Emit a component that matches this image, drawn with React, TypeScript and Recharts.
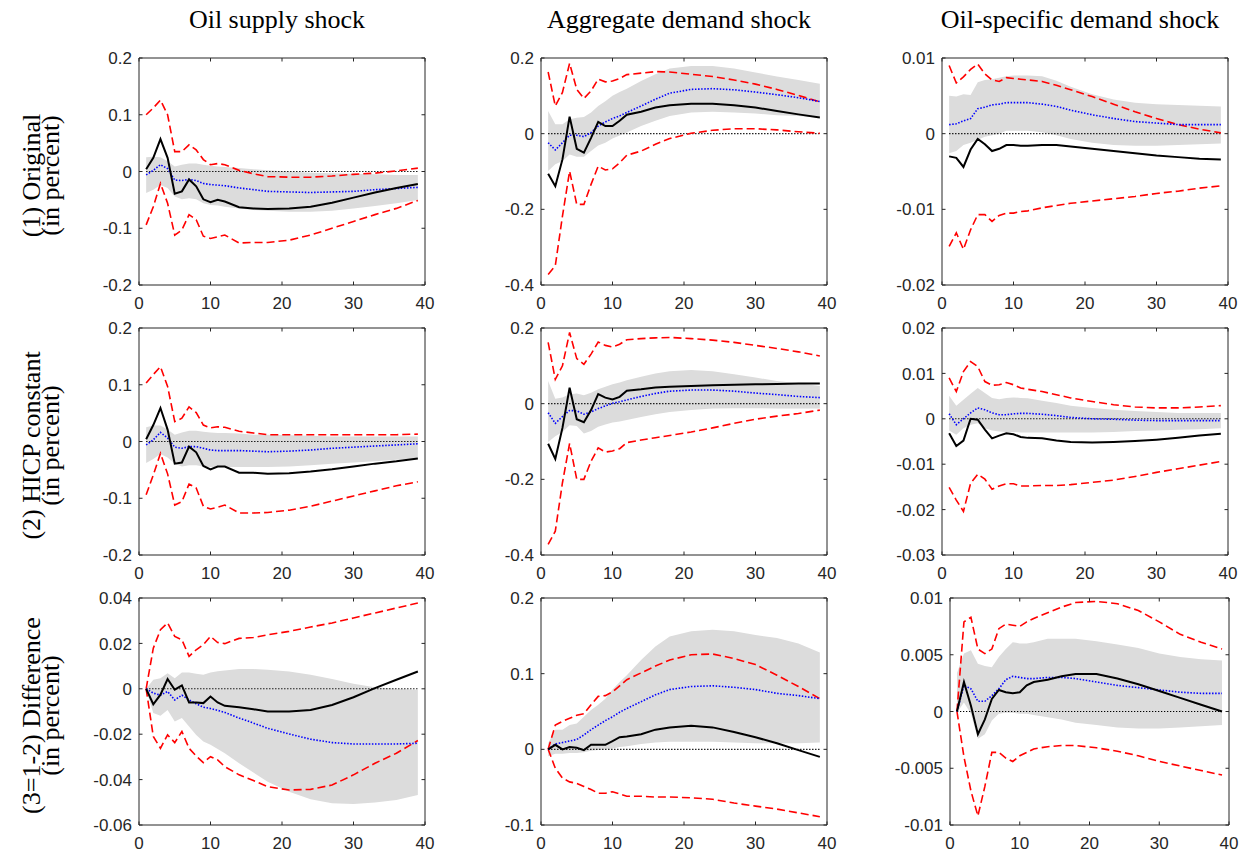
import React from 'react'
import { ComposedChart, Area, Line, XAxis, YAxis, ReferenceArea } from 'recharts'

// horizons (quarters) at which responses are read
const horizons = [1, 2, 3, 4, 5, 6, 7, 8, 9, 10, 11, 12, 14, 16, 18, 21, 24, 27, 30, 33, 36, 39]
const xTicks = [0, 10, 20, 30, 40]

const shockTitles = ['Oil supply shock', 'Aggregate demand shock', 'Oil-specific demand shock']
const rowLabels = [
  ['(1) Original', '(in percent)'],
  ['(2) HICP constant', '(in percent)'],
  ['(3=1-2) Difference', '(in percent)'],
]

// y ticks
const ticksA = [-0.2, -0.1, 0, 0.1, 0.2]
const ticksB = [-0.4, -0.2, 0, 0.2]
const ticksC = [-0.02, -0.01, 0, 0.01]
const ticksD = [-0.03, -0.02, -0.01, 0, 0.01, 0.02]
const ticksE = [-0.06, -0.04, -0.02, 0, 0.02, 0.04]
const ticksF = [-0.1, 0, 0.1, 0.2]
const ticksG = [-0.01, -0.005, 0, 0.005, 0.01]

// (1) original — oil supply
const origSupplyBlack = [0.004, 0.024, 0.057, 0.024, -0.039, -0.035, -0.014, -0.026, -0.049, -0.054, -0.05, -0.053, -0.063, -0.065, -0.066, -0.065, -0.062, -0.055, -0.046, -0.037, -0.029, -0.022]
const origSupplyBlue = [-0.006, 0.002, 0.012, 0.005, -0.015, -0.016, -0.014, -0.016, -0.021, -0.023, -0.024, -0.025, -0.029, -0.032, -0.035, -0.036, -0.037, -0.036, -0.035, -0.032, -0.03, -0.028]
const origSupplyBandLo = [-0.038, -0.032, -0.024, -0.029, -0.044, -0.049, -0.047, -0.049, -0.056, -0.059, -0.06, -0.062, -0.065, -0.068, -0.069, -0.071, -0.071, -0.069, -0.065, -0.061, -0.056, -0.05]
const origSupplyBandHi = [0.025, 0.026, 0.025, 0.018, 0.009, 0.012, 0.014, 0.014, 0.012, 0.01, 0.009, 0.008, 0.006, 0.004, 0.002, 0, -0.002, -0.003, -0.004, -0.005, -0.006, -0.006]
const origSupplyRedLo = [-0.094, -0.062, -0.021, -0.056, -0.112, -0.103, -0.076, -0.085, -0.114, -0.118, -0.115, -0.112, -0.126, -0.125, -0.125, -0.121, -0.112, -0.1, -0.088, -0.076, -0.065, -0.051]
const origSupplyRedHi = [0.1, 0.112, 0.126, 0.1, 0.035, 0.035, 0.047, 0.038, 0.021, 0.012, 0.014, 0.012, 0.002, -0.004, -0.009, -0.01, -0.01, -0.008, -0.005, -0.003, 0.001, 0.006]

// (1) original — aggregate demand
const origAggBlack = [-0.106, -0.139, -0.068, 0.045, -0.04, -0.05, -0.011, 0.031, 0.02, 0.02, 0.034, 0.05, 0.058, 0.069, 0.075, 0.079, 0.079, 0.075, 0.069, 0.06, 0.051, 0.043]
const origAggBlue = [-0.024, -0.043, -0.024, -0.004, -0.004, -0.008, 0.003, 0.02, 0.031, 0.04, 0.047, 0.056, 0.073, 0.091, 0.107, 0.117, 0.119, 0.116, 0.11, 0.103, 0.095, 0.085]
const origAggBandLo = [-0.099, -0.081, -0.072, -0.055, -0.061, -0.061, -0.046, -0.031, -0.024, -0.013, -0.005, 0.003, 0.02, 0.034, 0.047, 0.056, 0.058, 0.056, 0.053, 0.049, 0.047, 0.042]
const origAggBandHi = [0.06, 0.025, 0.025, 0.038, 0.042, 0.044, 0.056, 0.073, 0.086, 0.1, 0.11, 0.119, 0.139, 0.157, 0.172, 0.179, 0.179, 0.172, 0.162, 0.151, 0.142, 0.132]
const origAggRedLo = [-0.372, -0.349, -0.218, -0.099, -0.187, -0.187, -0.134, -0.086, -0.096, -0.093, -0.077, -0.057, -0.046, -0.028, -0.013, 0.001, 0.009, 0.013, 0.013, 0.01, 0.005, 0.001]
const origAggRedHi = [0.163, 0.073, 0.109, 0.186, 0.117, 0.093, 0.113, 0.144, 0.137, 0.139, 0.146, 0.156, 0.16, 0.164, 0.163, 0.157, 0.151, 0.142, 0.131, 0.117, 0.101, 0.084]

// (1) original — oil-specific demand
const origSpecBlack = [-0.003, -0.0032, -0.0044, -0.0021, -0.0007, -0.0014, -0.0023, -0.002, -0.0015, -0.0015, -0.0016, -0.0016, -0.0015, -0.0015, -0.0017, -0.002, -0.0023, -0.0026, -0.0029, -0.0031, -0.0033, -0.0034]
const origSpecBlue = [0.0012, 0.0013, 0.0017, 0.002, 0.0033, 0.0035, 0.0038, 0.0039, 0.0041, 0.0041, 0.0041, 0.0041, 0.0039, 0.0036, 0.0031, 0.0025, 0.002, 0.0016, 0.0014, 0.0012, 0.0012, 0.0012]
const origSpecBandLo = [-0.0026, -0.0023, -0.0015, -0.0012, -0.0008, -0.0004, -0.0002, 0, 0.0004, 0.0004, 0.0004, 0.0004, 0.0002, -0.0002, -0.0007, -0.0012, -0.0015, -0.0016, -0.0016, -0.0015, -0.0014, -0.0013]
const origSpecBandHi = [0.005, 0.0049, 0.0052, 0.0051, 0.0068, 0.0071, 0.0072, 0.0074, 0.0076, 0.0077, 0.0077, 0.0077, 0.0076, 0.007, 0.0062, 0.0052, 0.0045, 0.0041, 0.0039, 0.0038, 0.0037, 0.0036]
const origSpecRedLo = [-0.0149, -0.0131, -0.0153, -0.0127, -0.0107, -0.0107, -0.0116, -0.0108, -0.0105, -0.0105, -0.0103, -0.0102, -0.0098, -0.0095, -0.0092, -0.0089, -0.0086, -0.0083, -0.0079, -0.0076, -0.0072, -0.0069]
const origSpecRedHi = [0.009, 0.0067, 0.0075, 0.0085, 0.0092, 0.0079, 0.0071, 0.0069, 0.0074, 0.0073, 0.0072, 0.0071, 0.0069, 0.0064, 0.0058, 0.0049, 0.0039, 0.0029, 0.002, 0.0012, 0.0006, 0.0001]

// (2) HICP constant — oil supply
const hicpSupplyBlack = [0.004, 0.029, 0.059, 0.021, -0.039, -0.037, -0.009, -0.019, -0.043, -0.049, -0.044, -0.044, -0.055, -0.055, -0.057, -0.056, -0.053, -0.049, -0.044, -0.039, -0.035, -0.03]
const hicpSupplyBlue = [-0.006, 0.003, 0.016, 0.006, -0.01, -0.012, -0.009, -0.009, -0.012, -0.015, -0.016, -0.016, -0.016, -0.017, -0.018, -0.017, -0.015, -0.012, -0.01, -0.008, -0.006, -0.004]
const hicpSupplyBandLo = [-0.038, -0.031, -0.022, -0.028, -0.039, -0.044, -0.042, -0.042, -0.044, -0.045, -0.045, -0.045, -0.045, -0.045, -0.045, -0.044, -0.042, -0.039, -0.037, -0.035, -0.032, -0.03]
const hicpSupplyBandHi = [0.025, 0.028, 0.028, 0.021, 0.012, 0.016, 0.019, 0.019, 0.017, 0.016, 0.015, 0.015, 0.014, 0.012, 0.012, 0.011, 0.01, 0.009, 0.009, 0.009, 0.009, 0.009]
const hicpSupplyRedLo = [-0.094, -0.059, -0.021, -0.057, -0.112, -0.106, -0.075, -0.082, -0.114, -0.119, -0.116, -0.112, -0.126, -0.126, -0.125, -0.121, -0.114, -0.105, -0.096, -0.087, -0.078, -0.071]
const hicpSupplyRedHi = [0.103, 0.118, 0.132, 0.097, 0.035, 0.041, 0.061, 0.051, 0.029, 0.024, 0.026, 0.025, 0.018, 0.015, 0.012, 0.012, 0.012, 0.012, 0.012, 0.012, 0.012, 0.013]

// (2) HICP constant — aggregate demand
const hicpAggBlack = [-0.106, -0.146, -0.064, 0.042, -0.041, -0.049, -0.017, 0.025, 0.016, 0.011, 0.018, 0.034, 0.038, 0.043, 0.045, 0.047, 0.049, 0.05, 0.051, 0.052, 0.053, 0.053]
const hicpAggBlue = [-0.024, -0.052, -0.034, -0.018, -0.019, -0.028, -0.022, -0.013, -0.006, 0.001, 0.005, 0.01, 0.019, 0.027, 0.033, 0.036, 0.036, 0.033, 0.028, 0.024, 0.019, 0.016]
const hicpAggBandLo = [-0.101, -0.086, -0.075, -0.057, -0.059, -0.079, -0.072, -0.061, -0.055, -0.05, -0.047, -0.043, -0.035, -0.028, -0.022, -0.017, -0.013, -0.012, -0.012, -0.013, -0.013, -0.013]
const hicpAggBandHi = [0.06, 0.013, 0.016, 0.025, 0.027, 0.022, 0.029, 0.038, 0.045, 0.051, 0.056, 0.062, 0.071, 0.08, 0.086, 0.089, 0.086, 0.078, 0.069, 0.06, 0.054, 0.047]
const hicpAggRedLo = [-0.372, -0.337, -0.209, -0.105, -0.2, -0.2, -0.152, -0.117, -0.128, -0.125, -0.119, -0.103, -0.096, -0.09, -0.084, -0.075, -0.064, -0.052, -0.041, -0.033, -0.026, -0.017]
const hicpAggRedHi = [0.162, 0.064, 0.1, 0.188, 0.119, 0.104, 0.131, 0.163, 0.154, 0.15, 0.157, 0.169, 0.172, 0.174, 0.175, 0.172, 0.168, 0.162, 0.154, 0.146, 0.137, 0.126]

// (2) HICP constant — oil-specific demand
const hicpSpecBlack = [-0.0032, -0.006, -0.0048, 0, -0.0002, -0.0024, -0.0043, -0.0037, -0.0032, -0.0034, -0.004, -0.0042, -0.0043, -0.0048, -0.0051, -0.0052, -0.0051, -0.0049, -0.0046, -0.0042, -0.0037, -0.0033]
const hicpSpecBlue = [0.0011, -0.0013, 0, 0.0013, 0.0024, 0.002, 0.0013, 0.0009, 0.0009, 0.0011, 0.0012, 0.0012, 0.001, 0.0007, 0.0003, 0, -0.0001, -0.0003, -0.0004, -0.0004, -0.0004, -0.0004]
const hicpSpecBandLo = [-0.0026, -0.0035, -0.0021, -0.0013, -0.001, -0.0021, -0.0026, -0.0028, -0.0029, -0.0029, -0.003, -0.003, -0.003, -0.003, -0.003, -0.003, -0.0029, -0.0027, -0.0026, -0.0024, -0.0023, -0.0021]
const hicpSpecBandHi = [0.0051, 0.0029, 0.0042, 0.0055, 0.0068, 0.0057, 0.0046, 0.0043, 0.0046, 0.0047, 0.0046, 0.0045, 0.004, 0.0035, 0.0029, 0.0024, 0.002, 0.0017, 0.0015, 0.0013, 0.0013, 0.0013]
const hicpSpecRedLo = [-0.0151, -0.0179, -0.0204, -0.0142, -0.0122, -0.0133, -0.0155, -0.0148, -0.0143, -0.0143, -0.0148, -0.0148, -0.0147, -0.0147, -0.0145, -0.014, -0.0135, -0.0127, -0.0118, -0.011, -0.0102, -0.0094]
const hicpSpecRedHi = [0.009, 0.006, 0.0104, 0.0126, 0.0115, 0.0082, 0.0074, 0.0075, 0.008, 0.0075, 0.0068, 0.0065, 0.006, 0.0053, 0.0046, 0.0038, 0.0031, 0.0026, 0.0024, 0.0024, 0.0026, 0.0029]

// (3) difference — oil supply
const diffSupplyBlack = [0, -0.0068, -0.0026, 0.0043, -0.0004, 0.0015, -0.006, -0.006, -0.0063, -0.0034, -0.006, -0.0075, -0.0081, -0.009, -0.01, -0.01, -0.0093, -0.0071, -0.0037, 0.0003, 0.004, 0.0076]
const diffSupplyBlue = [0, -0.0019, -0.0028, -0.0012, -0.0049, -0.0028, -0.0049, -0.0066, -0.0081, -0.0087, -0.0095, -0.0104, -0.0129, -0.0151, -0.0174, -0.0199, -0.0222, -0.0237, -0.0243, -0.0243, -0.0243, -0.024]
const diffSupplyBandLo = [-0.0004, -0.0107, -0.0119, -0.0093, -0.0144, -0.0129, -0.0166, -0.0203, -0.0232, -0.0247, -0.0265, -0.0284, -0.0328, -0.0369, -0.0409, -0.0453, -0.0487, -0.0504, -0.0507, -0.0501, -0.049, -0.0468]
const diffSupplyBandHi = [0, 0.004, 0.0047, 0.0069, 0.0047, 0.0072, 0.0072, 0.0066, 0.0062, 0.0072, 0.0077, 0.0081, 0.0087, 0.0087, 0.0084, 0.0076, 0.0062, 0.0043, 0.0022, 0.0007, 0, -0.0004]
const diffSupplyRedLo = [0, -0.021, -0.0262, -0.0203, -0.0237, -0.0188, -0.0262, -0.0296, -0.0325, -0.0299, -0.0313, -0.0343, -0.0379, -0.0404, -0.0431, -0.0446, -0.0443, -0.0424, -0.0379, -0.0328, -0.0284, -0.0228]
const diffSupplyRedHi = [0, 0.0179, 0.026, 0.029, 0.0231, 0.0216, 0.0143, 0.0172, 0.0194, 0.0231, 0.0204, 0.0199, 0.0222, 0.0226, 0.0238, 0.0253, 0.0272, 0.029, 0.0312, 0.0334, 0.0356, 0.0378]

// (3) difference — aggregate demand
const diffAggBlack = [0, 0.006, 0, 0.003, 0.002, -0.001, 0.006, 0.006, 0.006, 0.011, 0.016, 0.017, 0.02, 0.026, 0.029, 0.031, 0.029, 0.023, 0.016, 0.008, -0.001, -0.01]
const diffAggBlue = [0, 0.007, 0.009, 0.011, 0.013, 0.019, 0.026, 0.032, 0.038, 0.043, 0.049, 0.054, 0.063, 0.072, 0.079, 0.083, 0.084, 0.082, 0.079, 0.074, 0.071, 0.067]
const diffAggBandLo = [-0.009, -0.006, -0.006, -0.005, -0.005, -0.004, -0.002, -0.001, 0, 0.001, 0.003, 0.004, 0.007, 0.009, 0.01, 0.01, 0.01, 0.009, 0.008, 0.008, 0.008, 0.009]
const diffAggBandHi = [0.008, 0.026, 0.026, 0.032, 0.034, 0.043, 0.052, 0.059, 0.067, 0.079, 0.089, 0.098, 0.118, 0.136, 0.149, 0.156, 0.158, 0.156, 0.151, 0.147, 0.14, 0.128]
const diffAggRedLo = [0, -0.025, -0.038, -0.043, -0.045, -0.049, -0.053, -0.058, -0.058, -0.056, -0.059, -0.062, -0.062, -0.063, -0.063, -0.064, -0.066, -0.071, -0.075, -0.079, -0.084, -0.089]
const diffAggRedHi = [0, 0.032, 0.037, 0.041, 0.045, 0.047, 0.059, 0.07, 0.071, 0.076, 0.084, 0.092, 0.101, 0.11, 0.118, 0.125, 0.126, 0.12, 0.112, 0.098, 0.083, 0.067]

// (3) difference — oil-specific demand
const diffSpecBlack = [0, 0.0026, 0.0005, -0.002, -0.0007, 0.0011, 0.0019, 0.0017, 0.0016, 0.0017, 0.0023, 0.0026, 0.0028, 0.0031, 0.0033, 0.0033, 0.0029, 0.0024, 0.0018, 0.0012, 0.0006, 0]
const diffSpecBlue = [0, 0.0023, 0.002, 0.0009, 0.0009, 0.0014, 0.002, 0.0028, 0.0031, 0.003, 0.0029, 0.0029, 0.003, 0.003, 0.0029, 0.0026, 0.0023, 0.0021, 0.0019, 0.0017, 0.0016, 0.0016]
const diffSpecBandLo = [-0.0001, 0.0008, -0.0002, -0.0024, -0.002, -0.0008, -0.0002, -0.0001, -0.0001, -0.0002, -0.0002, -0.0003, -0.0005, -0.0007, -0.001, -0.0012, -0.0014, -0.0015, -0.0015, -0.0014, -0.0013, -0.0012]
const diffSpecBandHi = [0.0034, 0.0051, 0.0054, 0.0042, 0.004, 0.0039, 0.0048, 0.0055, 0.0061, 0.006, 0.006, 0.0061, 0.0064, 0.0064, 0.0064, 0.0062, 0.0059, 0.0056, 0.0051, 0.0048, 0.0046, 0.0045]
const diffSpecRedLo = [0, -0.004, -0.007, -0.0092, -0.0066, -0.0036, -0.0036, -0.0041, -0.0044, -0.0039, -0.0036, -0.0033, -0.0031, -0.003, -0.003, -0.0032, -0.0035, -0.0039, -0.0044, -0.0048, -0.0052, -0.0056]
const diffSpecRedHi = [0, 0.0079, 0.0083, 0.0055, 0.0051, 0.0055, 0.0073, 0.0077, 0.0076, 0.0075, 0.0079, 0.0082, 0.0087, 0.0092, 0.0096, 0.0097, 0.0095, 0.0089, 0.0079, 0.0068, 0.0061, 0.0055]

const AXIS = '#262626'
const TICK_FONT = '"Liberation Sans", Arial, Helvetica, sans-serif'
const SERIF = '"Liberation Serif", "Times New Roman", serif'

const PLOT_W = 286
const PLOT_H = 227
const Y_W = 70
const TOP_PAD = 12
const RIGHT_PAD = 14
const X_H = 30
const colLeft = [139, 541, 942]
const rowTop = [58, 328, 598]

interface Series {
  black: number[]
  blue: number[]
  bandLo: number[]
  bandHi: number[]
  redLo: number[]
  redHi: number[]
}

interface PanelDef extends Series {
  row: number
  col: number
  yTicks: number[]
  left?: number
  width?: number
}

const panels: PanelDef[] = [
  { row: 0, col: 0, yTicks: ticksA, black: origSupplyBlack, blue: origSupplyBlue, bandLo: origSupplyBandLo, bandHi: origSupplyBandHi, redLo: origSupplyRedLo, redHi: origSupplyRedHi },
  { row: 0, col: 1, yTicks: ticksB, black: origAggBlack, blue: origAggBlue, bandLo: origAggBandLo, bandHi: origAggBandHi, redLo: origAggRedLo, redHi: origAggRedHi },
  { row: 0, col: 2, yTicks: ticksC, black: origSpecBlack, blue: origSpecBlue, bandLo: origSpecBandLo, bandHi: origSpecBandHi, redLo: origSpecRedLo, redHi: origSpecRedHi },
  { row: 1, col: 0, yTicks: ticksA, black: hicpSupplyBlack, blue: hicpSupplyBlue, bandLo: hicpSupplyBandLo, bandHi: hicpSupplyBandHi, redLo: hicpSupplyRedLo, redHi: hicpSupplyRedHi },
  { row: 1, col: 1, yTicks: ticksB, black: hicpAggBlack, blue: hicpAggBlue, bandLo: hicpAggBandLo, bandHi: hicpAggBandHi, redLo: hicpAggRedLo, redHi: hicpAggRedHi },
  { row: 1, col: 2, yTicks: ticksD, black: hicpSpecBlack, blue: hicpSpecBlue, bandLo: hicpSpecBandLo, bandHi: hicpSpecBandHi, redLo: hicpSpecRedLo, redHi: hicpSpecRedHi },
  { row: 2, col: 0, yTicks: ticksE, black: diffSupplyBlack, blue: diffSupplyBlue, bandLo: diffSupplyBandLo, bandHi: diffSupplyBandHi, redLo: diffSupplyRedLo, redHi: diffSupplyRedHi },
  { row: 2, col: 1, yTicks: ticksF, black: diffAggBlack, blue: diffAggBlue, bandLo: diffAggBandLo, bandHi: diffAggBandHi, redLo: diffAggRedLo, redHi: diffAggRedHi },
  { row: 2, col: 2, yTicks: ticksG, left: 950, width: 279, black: diffSpecBlack, blue: diffSpecBlue, bandLo: diffSpecBandLo, bandHi: diffSpecBandHi, redLo: diffSpecRedLo, redHi: diffSpecRedHi },
]

function buildRows(p: Series) {
  return horizons.map((h, i) => ({
    h,
    black: p.black[i],
    blue: p.blue[i],
    redLo: p.redLo[i],
    redHi: p.redHi[i],
    band: [p.bandLo[i], p.bandHi[i]],
  }))
}

function makeYTick(plotW: number) {
  return (props: any) => {
    const { x, y, payload } = props
    return (
      <g>
        <line x1={x} x2={x + 3.5} y1={y} y2={y} stroke={AXIS} strokeWidth={1} />
        <line x1={x + plotW - 3.5} x2={x + plotW} y1={y} y2={y} stroke={AXIS} strokeWidth={1} />
        <text x={x - 7} y={y} dy="0.36em" textAnchor="end" fontFamily={TICK_FONT} fontSize={17} fill={AXIS}>
          {String(payload.value)}
        </text>
      </g>
    )
  }
}

function makeXTick(plotH: number) {
  return (props: any) => {
    const { x, y, payload } = props
    return (
      <g>
        <line x1={x} x2={x} y1={y} y2={y - 3.5} stroke={AXIS} strokeWidth={1} />
        <line x1={x} x2={x} y1={y - plotH} y2={y - plotH + 3.5} stroke={AXIS} strokeWidth={1} />
        <text x={x} y={y + 18} dy="0.36em" textAnchor="middle" fontFamily={TICK_FONT} fontSize={17} fill={AXIS}>
          {String(payload.value)}
        </text>
      </g>
    )
  }
}

function Panel({ p }: { p: PanelDef }) {
  const plotW = p.width ?? PLOT_W
  const left = p.left ?? colLeft[p.col]
  const top = rowTop[p.row]
  const yMin = p.yTicks[0]
  const yMax = p.yTicks[p.yTicks.length - 1]
  const rows = buildRows(p)
  return (
    <div style={{ position: 'absolute', left: left - Y_W, top: top - TOP_PAD }}>
      <ComposedChart
        width={Y_W + plotW + RIGHT_PAD}
        height={TOP_PAD + PLOT_H + X_H}
        data={rows}
        margin={{ top: TOP_PAD, right: RIGHT_PAD, bottom: 0, left: 0 }}
      >
        <XAxis
          dataKey="h"
          type="number"
          domain={[0, 40]}
          ticks={xTicks}
          interval={0}
          height={X_H}
          tickSize={0}
          tickMargin={0}
          tickLine={false}
          axisLine={false}
          tick={makeXTick(PLOT_H)}
        />
        <YAxis
          type="number"
          domain={[yMin, yMax]}
          ticks={p.yTicks}
          interval={0}
          width={Y_W}
          tickSize={0}
          tickMargin={0}
          tickLine={false}
          axisLine={false}
          allowDataOverflow
          tick={makeYTick(plotW)}
        />
        <Area
          dataKey="band"
          type="linear"
          stroke="none"
          fill="#dcdcdc"
          fillOpacity={1}
          isAnimationActive={false}
          dot={false}
          activeDot={false}
        />
        <Line
          dataKey={() => 0}
          type="linear"
          stroke="#000"
          strokeWidth={1.1}
          strokeDasharray="1.3 1.7"
          dot={false}
          activeDot={false}
          isAnimationActive={false}
        />
        <Line dataKey="redHi" type="linear" stroke="#ff0000" strokeWidth={1.6} strokeDasharray="8 4" dot={false} activeDot={false} isAnimationActive={false} />
        <Line dataKey="redLo" type="linear" stroke="#ff0000" strokeWidth={1.6} strokeDasharray="8 4" dot={false} activeDot={false} isAnimationActive={false} />
        <Line dataKey="blue" type="linear" stroke="#0000ff" strokeWidth={1.6} strokeDasharray="1.5 1.6" dot={false} activeDot={false} isAnimationActive={false} />
        <Line dataKey="black" type="linear" stroke="#000" strokeWidth={2} dot={false} activeDot={false} isAnimationActive={false} />
        <ReferenceArea x1={0} x2={40} y1={yMin} y2={yMax} fill="none" stroke={AXIS} strokeWidth={1} ifOverflow="visible" />
      </ComposedChart>
    </div>
  )
}

export default function App() {
  const rowCenters = rowTop.map((t) => t + PLOT_H / 2)
  return (
    <div style={{ position: 'absolute', left: 0, top: 0, width: 1245, height: 853, background: '#fff', overflow: 'hidden' }}>
      {panels.map((p, i) => (
        <Panel key={i} p={p} />
      ))}
      <svg width={1245} height={853} style={{ position: 'absolute', left: 0, top: 0, pointerEvents: 'none' }}>
        {shockTitles.map((t, c) => (
          <text key={t} x={colLeft[c] + PLOT_W / 2 - 5} y={28} textAnchor="middle" fontFamily={SERIF} fontSize={26} fill="#000">
            {t}
          </text>
        ))}
        {rowLabels.map((lines, r) =>
          lines.map((line, k) => (
            <text
              key={`${r}-${k}`}
              transform={`translate(${40 + k * 19}, ${rowCenters[r] + 4}) rotate(-90)`}
              textAnchor="middle"
              fontFamily={SERIF}
              fontSize={26}
              fill="#000"
            >
              {line}
            </text>
          )),
        )}
      </svg>
    </div>
  )
}
